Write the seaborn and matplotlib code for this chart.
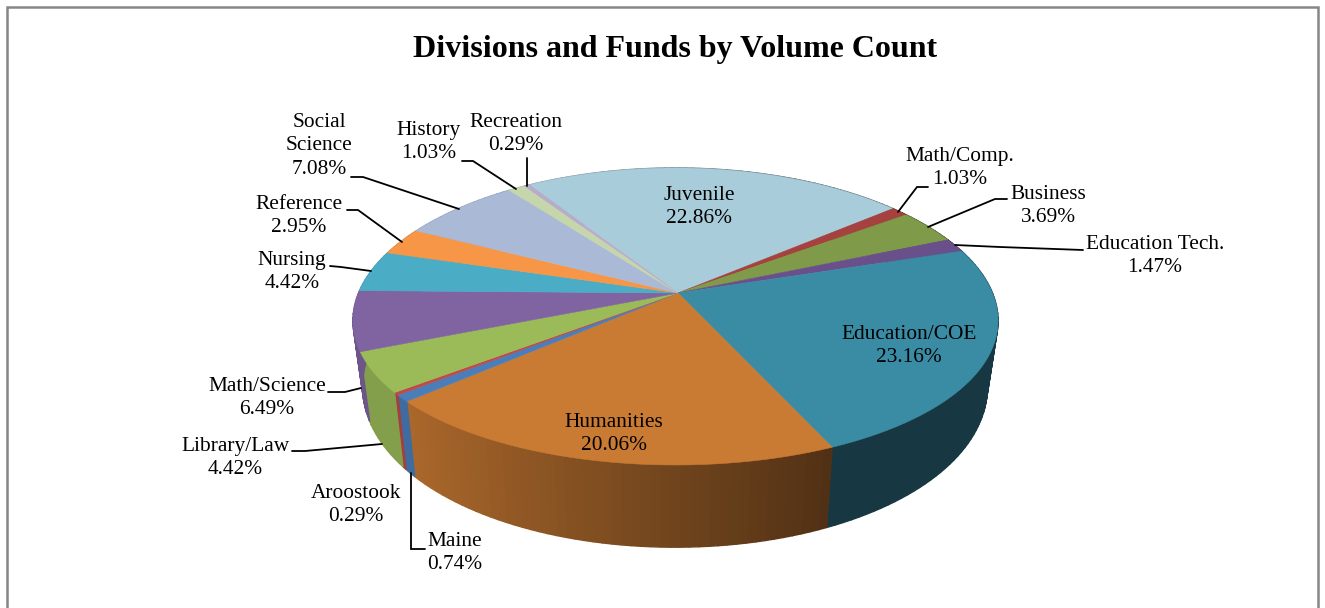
"""Divisions and Funds by Volume Count - tilted 3D pie"""
import numpy as np
import matplotlib
matplotlib.use("Agg")
import matplotlib.pyplot as plt
import seaborn as sns

# Clockwise from the Juvenile slice
divisions = ['Juvenile', 'Math/Comp.', 'Business', 'Education Tech.', 'Education/COE',
             'Humanities', 'Maine', 'Aroostook', 'Library/Law', 'Math/Science',
             'Nursing', 'Reference', 'Social\nScience', 'History', 'Recreation']
shares = [22.86, 1.03, 3.69, 1.47, 23.16, 20.06, 0.74, 0.29, 4.42, 6.49, 4.42, 2.95, 7.08, 1.03, 0.29]
slice_colors = ['#A9CCDB', '#A5423F', '#7F9A48', '#69508A', '#3A8CA4', '#C97A33', '#4A7EBB', '#BE4B48',
                '#9BBB59', '#8064A2', '#4BACC6', '#F79646', '#AAB9D6', '#C6D6AC', '#B9ABCB']

# label centre (pixels), then leader line (pixels)
label_pos = [(699, 207), (960, 168), (1048, 206), (1155, 256), (909, 346),
             (614, 434), (455, 553), (356, 505), (235, 458), (267, 398),
             (292, 272), (299, 216), (319, 146), (429, 142), (516, 134)]
leaders = {
    'Math/Comp.': [(928, 187), (917, 187), (898, 212)],
    'Business': [(1007, 199), (995, 199), (928, 227)],
    'Education Tech.': [(1083, 250), (1000, 247), (955, 245)],
    'Maine': [(425, 549), (411, 549), (411, 473)],
    'Library/Law': [(292, 451), (305, 451), (382, 444)],
    'Math/Science': [(328, 392), (345, 392), (361, 388)],
    'Nursing': [(330, 266), (341, 267), (371, 271)],
    'Reference': [(347, 210), (358, 210), (402, 242)],
    'Social\nScience': [(351, 177), (363, 177), (459, 209)],
    'History': [(462, 161), (473, 161), (516, 189)],
    'Recreation': [(527, 158), (527, 186)],
}

START_DEG = -32.2
K_X, K_Y = 0.185, 0.158  # perspective terms


def project(theta, cx, cy, a, b):
    x, y = np.sin(theta), np.cos(theta)
    return cx + a * x / (1 + K_X * y), cy - b * y / (1 + K_Y * y)


def top_rim(theta):
    return project(theta, 675.5, 293, 317, 144.8)


def bottom_rim(theta):
    return project(theta, 675, 356, 307, 161)


def wall_shade(theta):
    # side is lit from the left, dark from just right of centre
    return np.interp(np.sin(theta), [-1, -0.75, 0.41, 1], [0.85, 0.85, 0.40, 0.40])


sns.set_theme(style="white")
plt.rcParams['font.family'] = ['Liberation Serif', 'DejaVu Serif']

fig = plt.figure(figsize=(13.25, 6.08), dpi=100)
ax = fig.add_axes([0, 0, 1, 1])
ax.set_xlim(0, 1325)
ax.set_ylim(608, 0)
ax.axis('off')

# chart frame
ax.plot([7, 7, 1318, 1318], [608, 7, 7, 608], color='#868686', lw=1.8, solid_joinstyle='miter')

edges = np.radians(START_DEG + 3.6 * np.concatenate([[0], np.cumsum(shares)]))
palette = sns.color_palette(slice_colors)

# side wall first, in small steps so the shading runs along it
for start, end, color in zip(edges[:-1], edges[1:], palette):
    steps = np.linspace(start, end, max(2, int(np.degrees(end - start) / 1.5) + 2))
    for t0, t1 in zip(steps[:-1], steps[1:]):
        tx, ty = top_rim(np.array([t0, t1]))
        bx, by = bottom_rim(np.array([t1, t0]))
        shade = np.array(color) * wall_shade((t0 + t1) / 2)
        ax.fill(np.r_[tx, bx], np.r_[ty, by], color=tuple(shade), lw=1.0)

# top face
apex_x, apex_y = 678, 293
for start, end, color in zip(edges[:-1], edges[1:], palette):
    arc = np.linspace(start, end, max(3, int(np.degrees(end - start)) + 2))
    rx, ry = top_rim(arc)
    ax.fill(np.r_[apex_x, rx], np.r_[apex_y, ry], color=color, lw=0.4)

for name in leaders:
    px, py = zip(*leaders[name])
    ax.plot(px, py, color='black', lw=1.3, solid_joinstyle='miter')

for name, share, (lx, ly) in zip(divisions, shares, label_pos):
    ax.text(lx, ly, f'{name}\n{share:.2f}%', ha='center', va='center', fontsize=15.4,
            color='black', linespacing=1.33)

ax.text(675, 50, 'Divisions and Funds by Volume Count', ha='center', va='center',
        fontsize=23, fontweight='bold', color='black')

fig.savefig('out.png', dpi=100)
plt.close(fig)
